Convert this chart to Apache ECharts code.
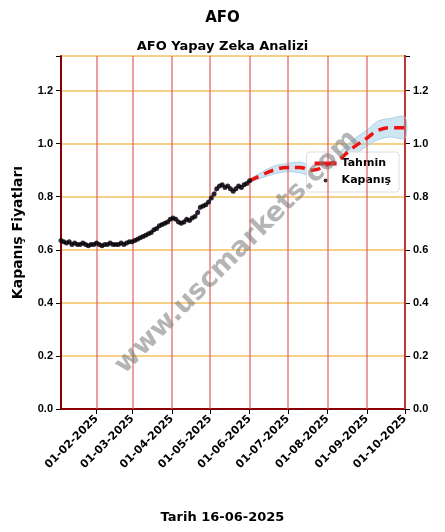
<!doctype html>
<html>
<head>
<meta charset="utf-8">
<script src="https://cdn.jsdelivr.net/npm/echarts@6/dist/echarts.min.js"></script>
<style>body{margin:0}#main{width:445px;height:532px}</style>
</head>
<body>
<div id="main"></div>
<script>
var closeStart = '2025-01-04';
var closeEnd = '2025-06-01';
var closeVals = [0.635,0.63,0.625,0.63,0.62,0.625,0.62,0.62,0.625,0.62,0.615,0.62,0.62,0.625,0.62,0.615,0.62,0.62,0.625,0.62,0.62,0.62,0.625,0.62,0.625,0.63,0.63,0.635,0.64,0.645,0.65,0.655,0.66,0.665,0.675,0.68,0.69,0.695,0.70,0.705,0.715,0.72,0.715,0.705,0.70,0.705,0.715,0.71,0.72,0.725,0.74,0.76,0.765,0.77,0.78,0.795,0.81,0.83,0.84,0.845,0.835,0.84,0.83,0.82,0.83,0.84,0.835,0.845,0.85,0.86];
var fcDates = ['2025-06-01','2025-06-10','2025-06-20','2025-07-01','2025-07-10','2025-07-20','2025-08-01','2025-08-10','2025-08-20','2025-09-01','2025-09-10','2025-09-20','2025-10-01'];
var fcVals = [0.86,0.88,0.90,0.91,0.91,0.90,0.92,0.94,0.98,1.02,1.05,1.06,1.06];
var fcBand = [0.005,0.01,0.015,0.015,0.02,0.02,0.025,0.025,0.03,0.03,0.035,0.035,0.04];
var monthTicks = ['2025-02-01','2025-03-01','2025-04-01','2025-05-01','2025-06-01','2025-07-01','2025-08-01','2025-09-01','2025-10-01'];

function t(d){return +new Date(d+'T00:00:00Z');}
function pad(n){return (n<10?'0':'')+n;}
var tickTimes = monthTicks.map(t);
var step = (t(closeEnd)-t(closeStart))/(closeVals.length-1);
var closeData = closeVals.map(function(v,i){return [t(closeStart)+i*step,v];});
var fcData = fcDates.map(function(d,i){return [t(d),fcVals[i]];});
var bandData = fcDates.map(function(d,i){return [t(d),fcVals[i]-fcBand[i],fcVals[i]+fcBand[i]];});
var xMin = t('2025-01-04'), xMax = t('2025-10-01');

var chart = echarts.init(document.getElementById('main'));
chart.setOption({
  animation:false,
  title:[
    {text:'AFO',left:'center',top:6,textStyle:{fontSize:15,fontWeight:'bold',color:'#000',fontFamily:'DejaVu Sans'}},
    {text:'AFO Yapay Zeka Analizi',left:'center',top:35,textStyle:{fontSize:13,fontWeight:'bold',color:'#000',fontFamily:'DejaVu Sans'}},
    {text:'Tarih 16-06-2025',left:'center',top:506,textStyle:{fontSize:13,fontWeight:'bold',color:'#000',fontFamily:'DejaVu Sans'}}
  ],
  graphic:[{type:'text',x:110,y:360,rotation:Math.PI/4,z:100,
    style:{text:'www.uscmarkets.com',fontSize:27,fontWeight:'bold',fill:'rgba(120,120,120,0.55)',fontFamily:'DejaVu Sans'}}],
  legend:{right:46,top:152,orient:'vertical',backgroundColor:'rgba(255,255,255,0.8)',borderColor:'#ddd',borderWidth:1,borderRadius:3,itemGap:6,padding:[6,8],
    textStyle:{fontWeight:'bold',fontSize:11,color:'#000',fontFamily:'DejaVu Sans'},
    data:[{name:'Tahmin',icon:'rect',itemStyle:{color:'#ee1111'}},{name:'Kapanış',icon:'circle',itemStyle:{color:'#000'}}],
    itemWidth:22,itemHeight:4},
  grid:{left:61,right:40,top:56,bottom:123},
  xAxis:[
    {type:'value',min:xMin,max:xMax,
     axisLine:{lineStyle:{color:'#8b0000',width:2}},
     axisTick:{customValues:tickTimes,lineStyle:{color:'#000'}},
     splitLine:{show:false},
     axisLabel:{customValues:tickTimes,rotate:45,fontWeight:'bold',fontSize:11,color:'#000',fontFamily:'DejaVu Sans',
       formatter:function(v){var d=new Date(v);return pad(d.getUTCDate())+'-'+pad(d.getUTCMonth()+1)+'-'+d.getUTCFullYear();}}},
    {type:'value',min:xMin,max:xMax,position:'top',
     axisLine:{show:true,lineStyle:{color:'#8b0000',width:2}},
     axisTick:{show:false},axisLabel:{show:false},splitLine:{show:false}}
  ],
  yAxis:[
    {type:'value',min:0,max:1.33,interval:0.2,name:'Kapanış Fiyatları',nameLocation:'middle',nameGap:36,
     nameTextStyle:{fontSize:14,fontWeight:'bold',color:'#000',fontFamily:'DejaVu Sans'},
     axisLine:{show:true,lineStyle:{color:'#8b0000',width:2}},axisTick:{show:true,lineStyle:{color:'#000'}},
     axisLabel:{fontWeight:'bold',fontSize:11,color:'#000',formatter:function(v){return v>1.3?'':v.toFixed(1);}},
     splitLine:{lineStyle:{color:'#f5c061',width:1.5}}},
    {type:'value',min:0,max:1.33,interval:0.2,position:'right',
     axisLine:{show:true,lineStyle:{color:'#8b0000',width:2}},axisTick:{show:true,lineStyle:{color:'#000'}},
     axisLabel:{fontWeight:'bold',fontSize:11,color:'#000',formatter:function(v){return v>1.3?'':v.toFixed(1);}},
     splitLine:{show:false}}
  ],
  series:[
    {type:'custom',name:'band',silent:true,z:2,data:bandData,
     renderItem:function(params,api){
       if(params.dataIndex!==0) return;
       var up=[],lo=[];
       bandData.forEach(function(d){up.push(api.coord([d[0],d[2]]));lo.unshift(api.coord([d[0],d[1]]));});
       return {type:'polygon',shape:{points:up.concat(lo),smooth:0.3},style:{fill:'rgba(160,205,230,0.5)',stroke:'#a8d0e6',lineWidth:1}};
     },
     markLine:{silent:true,symbol:'none',label:{show:false},lineStyle:{color:'#e06060',type:'solid',width:1.5,opacity:0.8},
       data:tickTimes.map(function(v){return {xAxis:v};})}},
    {type:'line',name:'Tahmin',symbol:'none',smooth:true,z:5,
     lineStyle:{color:'#ee1111',width:3.5,type:[10,6]},data:fcData},
    {type:'line',name:'trend',symbol:'none',smooth:true,lineStyle:{color:'#9b59b6',width:3,opacity:0.7},data:closeData},
    {type:'scatter',name:'Kapanış',symbolSize:5,itemStyle:{color:'#000'},z:6,data:closeData}
  ]
});
</script>
</body>
</html>
